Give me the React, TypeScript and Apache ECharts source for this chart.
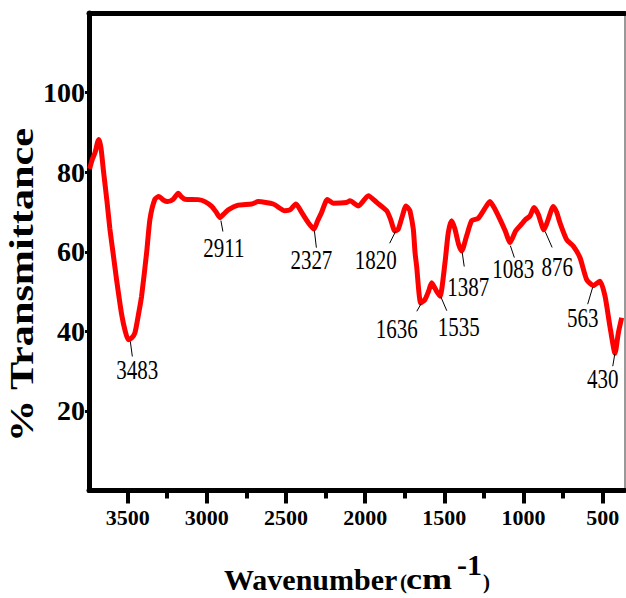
import React, { useEffect, useRef } from "react";
import * as echarts from "echarts";

// ---- data ----
const wavenumbers = [
  3740, 3725, 3705, 3690, 3681, 3668, 3654, 3630, 3612, 3590, 3570, 3538, 3515, 3496, 3475, 3454,
  3430, 3412, 3380, 3359, 3328, 3302, 3275, 3247, 3212, 3180, 3160, 3138, 3054, 3012, 2969, 2940,
  2917, 2895, 2865, 2801, 2717, 2675, 2580, 2507, 2475, 2437, 2401, 2359, 2323, 2300, 2275, 2239,
  2201, 2117, 2096, 2043, 1980, 1927, 1864, 1840, 1812, 1791, 1765, 1742, 1725, 1717, 1696, 1685,
  1675, 1649, 1622, 1600, 1580, 1548, 1527, 1496, 1475, 1454, 1433, 1410, 1390, 1359, 1327, 1286,
  1250, 1212, 1180, 1149, 1115, 1085, 1050, 1022, 990, 959, 934, 907, 871, 845, 812, 790,
  770, 727, 685, 643, 601, 559, 517, 485, 454, 422, 401, 380,
];
const transmittance = [
  80.8, 83.0, 85.0, 87.5, 88.2, 86.0, 80.8, 72.5, 65.7, 59.1, 53.0, 44.3, 40.0, 37.9, 38.3, 39.6,
  44.6, 48.8, 59.8, 68.2, 73.2, 73.9, 73.0, 72.6, 73.2, 74.7, 73.8, 73.2, 73.1, 72.6, 71.4, 69.9,
  68.6, 69.4, 70.5, 71.7, 72.0, 72.6, 72.0, 70.3, 70.5, 72.0, 69.9, 67.3, 65.7, 67.8, 69.9, 73.1,
  72.2, 72.4, 72.8, 71.5, 74.1, 72.4, 70.3, 68.2, 65.2, 65.7, 69.0, 71.5, 70.8, 70.3, 65.7, 59.8,
  56.4, 47.1, 48.0, 50.0, 52.2, 50.0, 48.8, 57.2, 64.8, 67.8, 65.7, 61.9, 60.2, 64.0, 67.8, 68.4,
  70.5, 72.6, 70.7, 68.2, 65.2, 62.3, 65.2, 66.5, 68.0, 69.0, 71.1, 69.4, 65.5, 68.0, 71.4, 69.9,
  67.3, 63.0, 61.4, 58.5, 53.0, 51.5, 52.6, 48.8, 41.2, 34.5, 39.6, 43.4,
];

const xTickValues = [3500, 3000, 2500, 2000, 1500, 1000, 500];
const xMinorTickValues = [3250, 2750, 2250, 1750, 1250, 750];
const yTickValues = [20, 40, 60, 80, 100];

const peakWavenumbers = [3483, 2911, 2327, 1820, 1636, 1535, 1387, 1083, 876, 563, 430];
const peakTransmittance = [38.2, 68.6, 65.8, 65.4, 47.3, 49.2, 60.3, 62.3, 65.6, 51.6, 35.0];
const peakLabels = ["3483", "2911", "2327", "1820", "1636", "1535", "1387", "1083", "876", "563", "430"];

// ---- layout / style (pixel offsets of leader lines and labels from each peak) ----
const peakLabelLayout = [
  { l0: [0, 3], l1: [2, 18], t: [7, 31] },
  { l0: [0, 3], l1: [2, 14], t: [3, 30] },
  { l0: [1, 2], l1: [3, 19], t: [-2, 31] },
  { l0: [2, 1], l1: [-4, 13], t: [-18, 29] },
  { l0: [-2, 2], l1: [-6, 9], t: [-26, 26] },
  { l0: [2, 2], l1: [8, 16], t: [20, 32] },
  { l0: [0, 2], l1: [2, 16], t: [6, 36] },
  { l0: [0, 3], l1: [4, 15], t: [3, 26] },
  { l0: [2, 2], l1: [9, 18], t: [14, 37] },
  { l0: [0, 2], l1: [-5, 19], t: [-10, 32] },
  { l0: [1, 3], l1: [-1, 15], t: [-11, 27] },
];

const X_MIN = 359;
const X_MAX = 3744;
const SERIF = '"Liberation Serif", "Times New Roman", serif';

export default function App() {
  const ref = useRef<HTMLDivElement>(null);

  useEffect(() => {
    document.body.style.margin = "0";
    if (!ref.current) return;
    const chart = echarts.init(ref.current, undefined, { renderer: "svg" });

    const lineData = wavenumbers.map((w, i) => [w, transmittance[i]]);
    const peakData = peakWavenumbers.map((w, i) => [w, peakTransmittance[i]]);
    const plain = (v: number) => String(v);

    const titleText = (text: string, x: number, y: number, size: number, scaleX = 1) => ({
      type: "text",
      x,
      y,
      scaleX,
      style: {
        text,
        fill: "#000",
        fontFamily: SERIF,
        fontWeight: "bold",
        fontSize: size,
        align: "left",
        verticalAlign: "bottom",
      },
    });

    const option: any = {
      animation: false,
      backgroundColor: "#ffffff",
      grid: { left: 89, right: 1, top: 13, bottom: 107.5, outerBoundsMode: "none" },
      xAxis: [
        {
          type: "value",
          inverse: true,
          min: X_MIN,
          max: X_MAX,
          position: "bottom",
          axisLine: { show: true, onZero: false, lineStyle: { color: "#000", width: 5 } },
          axisTick: {
            show: true,
            customValues: xTickValues,
            length: 13,
            lineStyle: { color: "#000", width: 4 },
          },
          axisLabel: {
            customValues: xTickValues,
            formatter: plain,
            color: "#000",
            fontFamily: SERIF,
            fontWeight: "bold",
            fontSize: 22,
            margin: 16,
          },
          splitLine: { show: false },
        },
        {
          type: "value",
          inverse: true,
          min: X_MIN,
          max: X_MAX,
          position: "top",
          axisLine: { show: true, onZero: false, lineStyle: { color: "#000", width: 5 } },
          axisTick: { show: false },
          axisLabel: { show: false },
          splitLine: { show: false },
        },
        {
          type: "value",
          inverse: true,
          min: X_MIN,
          max: X_MAX,
          position: "bottom",
          axisLine: { show: false, onZero: false },
          axisTick: {
            show: true,
            customValues: xMinorTickValues,
            length: 8,
            lineStyle: { color: "#000", width: 4 },
          },
          axisLabel: { show: false },
          splitLine: { show: false },
        },
      ],
      yAxis: [
        {
          type: "value",
          min: 0,
          max: 120,
          position: "left",
          axisLine: { show: true, onZero: false, lineStyle: { color: "#000", width: 5 } },
          axisTick: {
            show: true,
            customValues: yTickValues,
            length: 4,
            lineStyle: { color: "#000", width: 3 },
          },
          axisLabel: {
            customValues: yTickValues,
            formatter: plain,
            color: "#000",
            fontFamily: SERIF,
            fontWeight: "bold",
            fontSize: 28,
            margin: 4,
          },
          splitLine: { show: false },
        },
        {
          type: "value",
          min: 0,
          max: 120,
          position: "right",
          axisLine: { show: true, onZero: false, lineStyle: { color: "#777", width: 1.5 } },
          axisTick: { show: false },
          axisLabel: { show: false },
          splitLine: { show: false },
        },
      ],
      series: [
        {
          type: "line",
          xAxisIndex: 0,
          yAxisIndex: 0,
          data: lineData,
          showSymbol: false,
          smooth: 0.2,
          lineStyle: { color: "#ff0000", width: 5 },
          z: 3,
          silent: true,
        },
        {
          type: "custom",
          xAxisIndex: 0,
          yAxisIndex: 0,
          data: peakData,
          clip: false,
          silent: true,
          z: 4,
          renderItem: (params: any, api: any) => {
            const p = api.coord([api.value(0), api.value(1)]);
            const o = peakLabelLayout[params.dataIndex];
            return {
              type: "group",
              children: [
                {
                  type: "line",
                  shape: {
                    x1: p[0] + o.l0[0],
                    y1: p[1] + o.l0[1],
                    x2: p[0] + o.l1[0],
                    y2: p[1] + o.l1[1],
                  },
                  style: { stroke: "#000", lineWidth: 1 },
                },
                {
                  type: "text",
                  x: p[0] + o.t[0],
                  y: p[1] + o.t[1],
                  scaleY: 1.3,
                  style: {
                    text: peakLabels[params.dataIndex],
                    fill: "#000",
                    fontFamily: SERIF,
                    fontSize: 21,
                    align: "center",
                    verticalAlign: "middle",
                  },
                },
              ],
            };
          },
        },
      ],
      graphic: [
        {
          type: "text",
          x: 22,
          y: 285,
          rotation: Math.PI / 2,
          scaleX: 1.28,
          style: {
            text: "% Transmittance",
            fill: "#000",
            fontFamily: SERIF,
            fontWeight: "bold",
            fontSize: 33,
            align: "center",
            verticalAlign: "middle",
          },
        },
        titleText("Wavenumber", 224, 594, 30),
        titleText("(", 400, 592, 21),
        titleText("cm", 406, 594, 30, 1.2),
        titleText("-1", 457, 579, 30),
        titleText(")", 483, 592, 21),
      ],
    };

    chart.setOption(option);
    return () => {
      chart.dispose();
    };
  }, []);

  return <div ref={ref} style={{ width: 626, height: 598 }} />;
}
